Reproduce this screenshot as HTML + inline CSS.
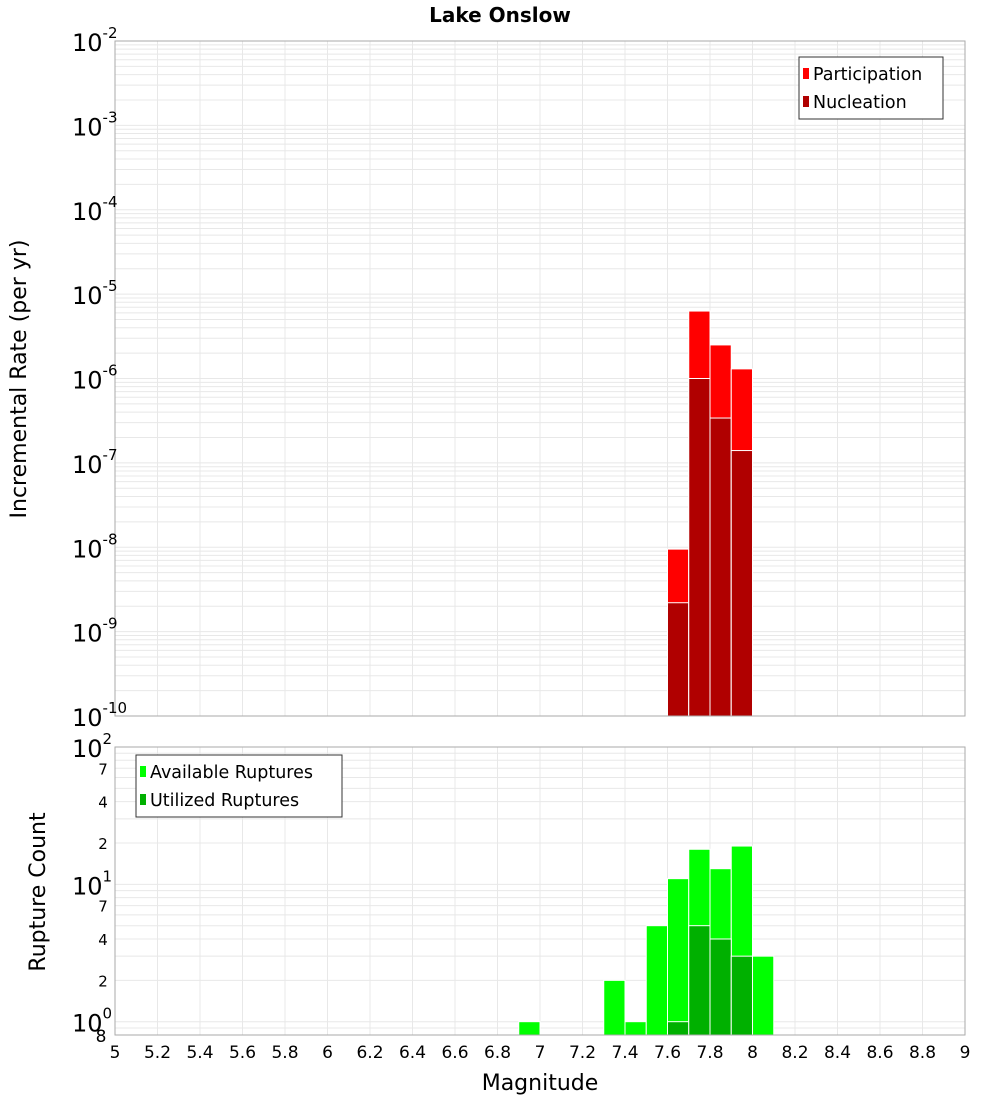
<!DOCTYPE html>
<html><head><meta charset="utf-8"><style>
body{margin:0;background:#fff;width:1000px;height:1100px;overflow:hidden}
svg{font-family:"DejaVu Sans","Liberation Sans",sans-serif}
</style></head><body>
<svg id="c" width="1000" height="1100" xmlns="http://www.w3.org/2000/svg">
<text x="500" y="22" text-anchor="middle" font-size="20" font-weight="bold">Lake Onslow</text>
<text transform="translate(26,379) rotate(-90)" text-anchor="middle" font-size="22">Incremental Rate (per yr)</text>
<text transform="translate(45,892) rotate(-90)" text-anchor="middle" font-size="22">Rupture Count</text>
<text x="540" y="1090" text-anchor="middle" font-size="22">Magnitude</text>
<g id="g"></g>
</svg>
<script>
const binCenters=[7.65,7.75,7.85,7.95];
const participation=[9.5e-9,6.3e-6,2.5e-6,1.3e-6];
const nucleation=[2.2e-9,1.0e-6,3.4e-7,1.4e-7];
const countCenters=[6.95,7.35,7.45,7.55,7.65,7.75,7.85,7.95,8.05];
const available=[1,2,1,5,11,18,13,19,3];
const utilizedCenters=[7.65,7.75,7.85,7.95];
const utilized=[1,5,4,3];
const xTicks=[5,5.2,5.4,5.6,5.8,6,6.2,6.4,6.6,6.8,7,7.2,7.4,7.6,7.8,8,8.2,8.4,8.6,8.8,9];
const topExps=[-2,-3,-4,-5,-6,-7,-8,-9,-10];
const botMinorLabels=[7,4,2];

const NS="http://www.w3.org/2000/svg",g=document.getElementById('g');
function el(t,a,txt){const e=document.createElementNS(NS,t);for(const k in a)e.setAttribute(k,a[k]);if(txt!==undefined)e.textContent=txt;g.appendChild(e);return e;}
const X0=115,X1=965;
const xs=v=>X0+(v-5)/4*(X1-X0);
const T0=41,T1=716;
const ysT=v=>T0+(-2-Math.log10(v))/8*(T1-T0);
const B0=747,B1=1035,bpd=(B1-B0)/(2-Math.log10(0.8));
const ysB=v=>B0+(2-Math.log10(v))*bpd;
const bw=(xs(5.1)-xs(5));

for(let e=-10;e<-2;e++)for(let m=1;m<10;m++){const y=ysT(m*Math.pow(10,e));
const l=el('line',{x1:X0,x2:X1,y1:y,y2:y,stroke:'#e8e8e8','stroke-width':1});
}
for(let e=-1;e<2;e++)for(let m=1;m<10;m++){const v=m*Math.pow(10,e);if(v<0.8)continue;const y=ysB(v);
const l=el('line',{x1:X0,x2:X1,y1:y,y2:y,stroke:'#e8e8e8','stroke-width':1});
}
xTicks.forEach(t=>{const x=xs(t);
[[T0,T1],[B0,B1]].forEach(r=>{const l=el('line',{x1:x,x2:x,y1:r[0],y2:r[1],stroke:'#e8e8e8','stroke-width':1});
});
const tx=el('text',{x:x,y:1058,'text-anchor':'middle','font-size':17},String(t));
});

binCenters.forEach((c,i)=>{const x=xs(c-0.05);
const p=el('rect',{x:x,y:ysT(participation[i]),width:bw,height:T1-ysT(participation[i]),fill:'#ff0000',stroke:'#fff','stroke-width':1});

const n=el('rect',{x:x,y:ysT(nucleation[i]),width:bw,height:T1-ysT(nucleation[i]),fill:'#b00000',stroke:'#fff','stroke-width':1});
});
countCenters.forEach((c,i)=>{const x=xs(c-0.05);
const r=el('rect',{x:x,y:ysB(available[i]),width:bw,height:B1-ysB(available[i]),fill:'#00ff00',stroke:'#fff','stroke-width':1});
});
utilizedCenters.forEach((c,i)=>{const x=xs(c-0.05);
const r=el('rect',{x:x,y:ysB(utilized[i]),width:bw,height:B1-ysB(utilized[i]),fill:'#00b000',stroke:'#fff','stroke-width':1});
});

[[T0,T1,'top-plot-frame'],[B0,B1,'bottom-plot-frame']].forEach(f=>{const r=el('rect',{x:X0,y:f[0],width:X1-X0,height:f[1]-f[0],fill:'none',stroke:'#aaa','stroke-width':1});
});

topExps.forEach(e=>{const y=ysT(Math.pow(10,e));
const t=el('text',{x:72,y:y+10,'font-size':24});

t.innerHTML='10<tspan dy="-13" font-size="15">'+e+'</tspan>';});
[2,1,0].forEach(e=>{const y=ysB(Math.pow(10,e));
const t=el('text',{x:72,y:y+10,'font-size':24});

t.innerHTML='10<tspan dy="-13" font-size="15">'+e+'</tspan>';});
[1,0].forEach(e=>botMinorLabels.forEach(m=>{const y=ysB(m*Math.pow(10,e));
const t=el('text',{x:103,y:y+6,'font-size':15,'text-anchor':'middle'},String(m));
}));
const t8=el('text',{x:101,y:1042,'font-size':17,'text-anchor':'middle'},'8');


function legend(x,y,w,items,name){const b=el('rect',{x:x,y:y,width:w,height:items.length*28+6,fill:'#fff',stroke:'#333','stroke-width':1});

items.forEach((it,i)=>{const s=el('rect',{x:x+4,y:y+11+i*28,width:6,height:11,fill:it[1]});

const t=el('text',{x:x+14,y:y+23+i*28,'font-size':17.5},it[0]);
});}
legend(799,57,144,[['Participation','#ff0000'],['Nucleation','#b00000']],'top-legend');
legend(136,755,206,[['Available Ruptures','#00ff00'],['Utilized Ruptures','#00b000']],'bottom-legend');
</script>
</body></html>
